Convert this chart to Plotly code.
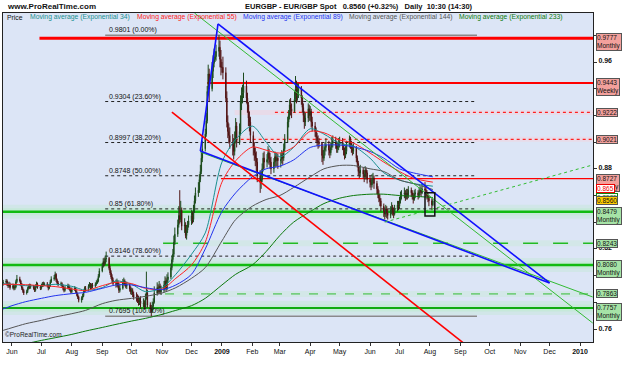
import plotly.graph_objects as go
import pandas as pd

# ---------------- DATA ----------------
# daily candles (high, low, close) in 1/10000 units; open = previous close
first_open = 7940
may08 = [(7968,7925,7950),(7975,7940,7960),(7972,7922,7935),(7950,7908,7925),(7955,7912,7935),(7948,7895,7910)]
jun08 = [(7940,7898,7925),(7938,7890,7905),(7932,7892,7915),(7970,7905,7955),(8005,7945,7975),(7992,7948,7960),
         (7968,7920,7935),(7945,7892,7905),(7918,7872,7890),(7898,7855,7870),(7895,7858,7880),(7918,7870,7905),
         (7935,7895,7920),(7940,7900,7915),(7938,7902,7920),(7930,7895,7910),(7922,7878,7890),(7935,7880,7920),
         (7955,7910,7935),(7948,7902,7915),(7928,7892,7905)]
jul08 = [(7940,7895,7925),(7952,7915,7935),(7955,7918,7930),(7950,7922,7940),(7952,7912,7925),(7935,7890,7905),
         (7938,7898,7925),(7968,7915,7955),(7995,7945,7975),(8005,7962,7985),(8030,7975,8010),(8018,7952,7965),
         (7978,7932,7945),(7960,7920,7935),(7955,7922,7940),(7950,7910,7925),(7935,7890,7905),(7915,7875,7890),
         (7925,7880,7910),(7940,7898,7925),(7935,7895,7910),(7918,7882,7895),(7905,7865,7880)]
aug08 = [(7912,7868,7895),(7922,7885,7905),(7915,7868,7880),(7890,7845,7860),(7872,7825,7840),(7850,7800,7815),
         (7845,7798,7830),(7865,7818,7850),(7895,7840,7880),(7920,7870,7905),(7922,7880,7895),(7935,7885,7920),
         (7952,7910,7935),(7945,7898,7910),(7942,7900,7930),(7945,7905,7920),(7950,7910,7935),(7965,7925,7945),
         (7978,7938,7960),(8012,7950,7995),(8055,7985,8035)]
sep08 = [(8095,8025,8070),(8130,8060,8105),(8135,8070,8090),(8150,8080,8125),(8180,8100,8130),(8140,8040,8055),
         (8075,8005,8020),(8040,7975,7990),(8010,7950,7965),(7985,7925,7940),(7970,7910,7935),(7978,7915,7950),
         (7965,7905,7920),(7945,7870,7890),(7935,7875,7905),(7975,7895,7950),(7985,7930,7960),(7972,7920,7935),
         (7955,7905,7920),(7955,7900,7930),(7945,7880,7900),(7920,7860,7880)]
oct08 = [(7910,7855,7890),(7905,7840,7860),(7880,7820,7840),(7875,7805,7830),(7860,7795,7820),(7850,7775,7800),
         (7835,7780,7810),(7845,7760,7790),(7830,7765,7795),(7815,7745,7760),(7865,7750,7830),(8030,7820,7870),
         (7895,7760,7780),(7800,7725,7760),(7780,7695,7740),(7805,7720,7770),(7830,7745,7800),(7920,7790,7870),
         (7950,7850,7910),(7935,7860,7880),(7960,7870,7920),(7940,7860,7880),(7925,7855,7890)]
nov08 = [(7960,7875,7930),(7995,7915,7960),(7985,7880,7900),(8010,7890,7970),(8025,7950,7990),(8090,7975,8060),
         (8150,8040,8120),(8200,8100,8160),(8300,8140,8250),(8360,8230,8310),(8420,8290,8380),(8520,8360,8450),
         (8640,8390,8420),(8560,8400,8490),(8510,8340,8370),(8430,8320,8380),(8400,8280,8300),(8380,8270,8340),
         (8410,8320,8380),(8450,8360,8410)]
dec08 = [(8490,8380,8450),(8480,8390,8420),(8530,8400,8490),(8600,8470,8560),(8660,8540,8620),(8700,8590,8640),
         (8760,8620,8720),(8830,8700,8780),(8920,8760,8880),(9010,8850,8950),(9100,8930,9060),(9220,9040,9160),
         (9420,9140,9380),(9580,9350,9510),(9550,9300,9400),(9600,9380,9530),(9650,9480,9590),(9700,9560,9620),
         (9680,9600,9640),(9730,9610,9680),(9801,9640,9710),(9760,9560,9620),(9690,9500,9560)]
jan09 = [(9600,9520,9560),(9640,9470,9520),(9560,9300,9330),(9380,9110,9150),(9200,9030,9080),(9140,8990,9050),
         (9110,8950,9000),(9060,8900,8980),(9030,8870,8930),(9080,8900,9020),(9180,8990,9120),(9150,8960,9000),
         (9140,8980,9080),(9350,9050,9300),(9410,9240,9350),(9430,9290,9370),(9520,9330,9420),(9460,9290,9330),
         (9370,9220,9280),(9300,9120,9180),(9230,9080,9150),(9190,9000,9050)]
feb09 = [(9080,8900,8960),(9000,8860,8920),(8960,8820,8880),(8930,8780,8850),(8880,8700,8750),(8790,8620,8700),
         (8780,8650,8720),(8840,8700,8800),(8920,8780,8880),(8930,8800,8850),(8910,8810,8870),(8970,8840,8920),
         (8950,8830,8880),(8920,8800,8850),(8890,8760,8800),(8880,8770,8850),(8930,8820,8890),(8920,8810,8860),
         (8920,8820,8880),(8910,8800,8860)]
mar09 = [(8920,8810,8870),(8940,8840,8900),(8930,8830,8880),(8990,8860,8950),(9060,8930,9020),(9190,9000,9150),
         (9240,9110,9200),(9320,9170,9280),(9330,9200,9250),(9290,9180,9230),(9380,9220,9320),(9495,9300,9400),
         (9460,9290,9350),(9440,9310,9380),(9440,9330,9400),(9420,9280,9330),(9350,9220,9260),(9290,9150,9200),
         (9230,9100,9150),(9220,9120,9180),(9290,9150,9250),(9280,9160,9200)]
apr09 = [(9270,9160,9230),(9250,9110,9150),(9190,9080,9120),(9150,9040,9080),(9110,9000,9040),(9070,8970,9010),
         (9050,8950,9000),(9030,8960,8990),(9000,8850,8900),(8940,8830,8880),(8970,8860,8940),(9000,8900,8960),
         (9030,8930,8980),(9010,8900,8940),(8980,8880,8920),(9000,8900,8960),(9040,8940,8990),(9050,8960,9010),
         (9040,8950,8980),(9010,8920,8950),(9000,8920,8970),(9030,8940,8990)]
may09 = [(9040,8960,9000),(9030,8940,8970),(8990,8900,8940),(8960,8870,8900),(8970,8880,8930),(9010,8910,8980),
         (9050,8960,9010),(9040,8950,8990),(9010,8920,8950),(8980,8900,8930),(8990,8910,8960),(8970,8850,8880),
         (8900,8810,8840),(8860,8750,8780),(8820,8730,8770),(8830,8740,8790),(8810,8730,8760),(8790,8700,8740),
         (8820,8720,8790),(8810,8730,8770),(8790,8690,8720)]
jun09 = [(8750,8660,8700),(8730,8640,8680),(8760,8660,8720),(8770,8690,8730),(8750,8650,8690),(8710,8610,8650),
         (8670,8580,8610),(8640,8550,8580),(8610,8520,8560),(8580,8480,8520),(8540,8440,8480),(8510,8420,8460),
         (8530,8440,8500),(8520,8430,8470),(8500,8420,8450),(8520,8430,8490),(8550,8460,8510),(8530,8450,8480),
         (8510,8430,8460),(8530,8450,8500),(8560,8480,8530),(8560,8490,8520)]
jul09 = [(8590,8500,8560),(8630,8540,8600),(8640,8570,8610),(8660,8580,8620),(8640,8560,8590),(8650,8570,8620),
         (8650,8570,8600),(8670,8580,8640),(8660,8590,8620),(8640,8570,8600),(8620,8540,8570),(8640,8560,8610),
         (8650,8580,8620),(8640,8570,8600),(8660,8580,8630),(8670,8600,8640),(8660,8590,8620),(8690,8610,8650),
         (8700,8610,8640),(8670,8590,8620),(8640,8570,8600),(8620,8550,8580),(8600,8520,8560)]
aug09 = [(8580,8490,8530),(8575,8520,8560)]

month_starts = ["2008-05-23","2008-06-01","2008-07-01","2008-08-01","2008-09-01","2008-10-01","2008-11-01",
                "2008-12-01","2009-01-01","2009-02-01","2009-03-01","2009-04-01","2009-05-01","2009-06-01",
                "2009-07-01","2009-08-01"]
month_rows = [may08, jun08, jul08, aug08, sep08, oct08, nov08, dec08, jan09, feb09, mar09, apr09, may09,
              jun09, jul09, aug09]

# moving averages (semi-monthly samples)
ema_dates = ["2008-05-23","2008-06-01","2008-06-15","2008-07-01","2008-07-15","2008-08-01","2008-08-15",
             "2008-09-01","2008-09-15","2008-10-01","2008-10-15","2008-11-01","2008-11-15","2008-12-01",
             "2008-12-15","2009-01-01","2009-01-15","2009-02-01","2009-02-15","2009-03-01","2009-03-15",
             "2009-04-01","2009-04-15","2009-05-01","2009-05-15","2009-06-01","2009-06-15","2009-07-01",
             "2009-07-15","2009-08-04"]
ema34 = [0.7940,0.7935,0.7925,0.7925,0.7935,0.7920,0.7890,0.7910,0.7960,0.7935,0.7880,0.7910,0.8010,0.8160,
         0.8320,0.8850,0.9020,0.9120,0.9000,0.8890,0.8960,0.9100,0.9060,0.8990,0.8970,0.8880,0.8770,0.8716,
         0.8690,0.8670]
ema55 = [0.7935,0.7935,0.7932,0.7925,0.7918,0.7900,0.7888,0.7925,0.7950,0.7940,0.7905,0.7900,0.7980,0.8080,
         0.8250,0.8700,0.8860,0.8963,0.8940,0.8918,0.8963,0.9080,0.9070,0.9016,0.8993,0.8918,0.8850,0.8780,
         0.8730,0.8700]
ema89 = [0.7750,0.7775,0.7805,0.7830,0.7850,0.7865,0.7875,0.7905,0.7930,0.7930,0.7910,0.7895,0.7930,0.8010,
         0.8200,0.8480,0.8620,0.8740,0.8800,0.8820,0.8866,0.8960,0.8978,0.8978,0.8965,0.8930,0.8880,0.8800,
         0.8770,0.8740]
ema144 = [0.7590,0.7610,0.7640,0.7665,0.7690,0.7715,0.7740,0.7790,0.7815,0.7830,0.7845,0.7870,0.7910,0.7980,
          0.8060,0.8260,0.8420,0.8520,0.8570,0.8600,0.8660,0.8740,0.8800,0.8825,0.8825,0.8800,0.8780,0.8716,
          0.8690,0.8645]
ema233 = [0.7440,0.7470,0.7490,0.7515,0.7535,0.7560,0.7585,0.7612,0.7635,0.7660,0.7680,0.7710,0.7740,0.7775,
          0.7830,0.7930,0.8010,0.8080,0.8180,0.8300,0.8400,0.8480,0.8540,0.8580,0.8600,0.8610,0.8610,0.8600,
          0.8595,0.8585]
ema_names = ["Moving average (Exponential 34)", "Moving average (Exponential 55)",
             "Moving average (Exponential 89)", "Moving average (Exponential 144)",
             "Moving average (Exponential 233)"]

# Fibonacci retracement
fib_values = [0.9801, 0.9304, 0.8997, 0.8748, 0.85, 0.8146, 0.7695]
fib_labels = ["0.9801 (0.00%)", "0.9304 (23.60%)", "0.8997 (38.20%)", "0.8748 (50.00%)",
              "0.85 (61.80%)", "0.8146 (78.60%)", "0.7695 (100.00%)"]
fib_start, fib_end = "2008-09-04", "2009-09-18"

# resistance / support levels: value, start date, label
res_levels = [0.9777, 0.9443, 0.9222, 0.9021, 0.8727]
res_starts = ["2008-06-29", "2008-12-17", "2009-02-24", "2009-01-14", "2008-12-31"]
res_tags = ["Monthly", "Weekly", "", "", "Weekly"]
sup_levels = [0.8479, 0.8243, 0.8080, 0.7863, 0.7757]
sup_starts = ["2008-05-01", "2008-11-02", "2008-05-01", "2008-11-04", "2008-05-01"]
sup_tags = ["Monthly", "", "Monthly", "", "Monthly"]
ema_marks = ["0.865", "0.8585"]
last_price = 0.8560
y_ticks = [0.76, 0.80, 0.82, 0.84, 0.88, 0.96]

# trend lines (date, price) pairs
blue_lines = [(("2008-12-10", 0.8933), ("2008-12-28", 0.9885)),
              (("2008-12-28", 0.9885), ("2009-12-01", 0.7945)),
              (("2008-12-10", 0.8933), ("2009-12-01", 0.7945))]
green_lines = [(("2008-12-04", 0.9967), ("2010-01-14", 0.7645)),
               (("2008-12-10", 0.8925), ("2010-01-14", 0.7840))]
green_dotted = (("2009-06-16", 0.8401), ("2010-01-14", 0.8829))
red_line = (("2008-11-11", 0.9225), ("2009-09-12", 0.7450))
box = (("2009-07-27", 0.8620), ("2009-08-06", 0.8447))

# ---------------- BUILD ----------------
dates, opens, highs, lows, closes = [], [], [], [], []
prev = first_open
for start, rows in zip(month_starts, month_rows):
    ds = pd.bdate_range(start, periods=len(rows))
    for d, (h, l, c) in zip(ds, rows):
        o = prev
        dates.append(d)
        opens.append(o / 1e4)
        closes.append(c / 1e4)
        highs.append(max(h, o, c) / 1e4)
        lows.append(min(l, o, c) / 1e4)
        prev = c

FONT = "Arial, Liberation Sans, sans-serif"
x_left, x_right = "2008-05-22 20:00", "2010-01-14 06:00"
y_lo, y_hi = 0.7503, 0.9967
px = (y_hi - y_lo) / 329.0  # price per pixel

fig = go.Figure()

# glow bands around support lines
for v in [0.8479, 0.8080, 0.7757]:
    fig.add_shape(type="rect", xref="x", yref="y", x0=x_left, x1="2010-02-01", y0=v - 7 * px, y1=v + 7 * px,
                  fillcolor="rgba(185,232,200,0.30)", line_width=0, layer="below")
    fig.add_shape(type="rect", xref="x", yref="y", x0=x_left, x1="2010-02-01", y0=v - 3.5 * px, y1=v + 3.5 * px,
                  fillcolor="rgba(185,238,200,0.45)", line_width=0, layer="below")
for v in [0.7863, 0.8243]:
    fig.add_shape(type="rect", xref="x", yref="y", x0="2008-11-02", x1="2010-02-01", y0=v - 3 * px, y1=v + 3 * px,
                  fillcolor="rgba(195,235,205,0.35)", line_width=0, layer="below")
for v in [0.9222, 0.9021]:
    fig.add_shape(type="rect", xref="x", yref="y", x0="2009-01-14", x1="2010-02-01", y0=v - 2.5 * px, y1=v + 2.5 * px,
                  fillcolor="rgba(250,205,215,0.40)", line_width=0, layer="below")

# fibonacci lines
for i, (v, t) in enumerate(zip(fib_values, fib_labels)):
    solid = i in (0, len(fib_values) - 1)
    fig.add_shape(type="line", xref="x", yref="y", x0=fib_start, x1=fib_end, y0=v, y1=v,
                  line=dict(color="#8a8a8a" if solid else "#222222", width=1.5 if solid else 1,
                            dash="solid" if solid else "dot"), layer="below")
    fig.add_annotation(x="2008-09-06", y=v, xref="x", yref="y", text=t, showarrow=False,
                       xanchor="left", yanchor="middle", yshift=5,
                       font=dict(family=FONT, size=7, color="#111111"))

# resistance lines
res_style = [dict(color="#ff0000", width=3), dict(color="#ff0000", width=2),
             dict(color="#ff2020", width=1.3, dash="dot"), dict(color="#ff2020", width=1.3, dash="dot"),
             dict(color="#ff0000", width=1.3)]
for v, s, st in zip(res_levels, res_starts, res_style):
    fig.add_shape(type="line", xref="x", yref="y", x0=s, x1="2010-02-01", y0=v, y1=v, line=st, layer="below")

# support lines
sup_style = [dict(color="#11bb11", width=2.5), dict(color="#22bb22", width=1.5, dash="longdash"),
             dict(color="#11bb11", width=2.5), dict(color="#33bb33", width=1, dash="dash"),
             dict(color="#11aa11", width=2)]
for v, s, st in zip(sup_levels, sup_starts, sup_style):
    fig.add_shape(type="line", xref="x", yref="y", x0=s, x1="2010-02-01", y0=v, y1=v, line=st, layer="below")

# moving averages
ema_colors = ["#1a9090", "#ff2222", "#2233ee", "#555555", "#0c7a0c"]
for vals, col in zip([ema34, ema55, ema89, ema144, ema233], ema_colors):
    fig.add_trace(go.Scatter(x=ema_dates, y=vals, mode="lines",
                             line=dict(color=col, width=1, shape="spline", smoothing=0.8),
                             hoverinfo="skip", showlegend=False))

# candles
fig.add_trace(go.Candlestick(x=dates, open=opens, high=highs, low=lows, close=closes,
                             increasing=dict(line=dict(color="#1c4a1c", width=1), fillcolor="#129012"),
                             decreasing=dict(line=dict(color="#4f1414", width=1), fillcolor="#c00000"),
                             whiskerwidth=0, showlegend=False))

# trend lines
def seg(p0, p1, color, width, dash="solid"):
    fig.add_shape(type="line", xref="x", yref="y", x0=p0[0], y0=p0[1], x1=p1[0], y1=p1[1],
                  line=dict(color=color, width=width, dash=dash))

for p0, p1 in green_lines:
    seg(p0, p1, "#33bb33", 1)
for p0, p1 in blue_lines:
    seg(p0, p1, "#1010ff", 1.6)
seg(green_dotted[0], green_dotted[1], "#33bb33", 1, "dot")
seg(red_line[0], red_line[1], "#ff0000", 1.6)
fig.add_shape(type="rect", xref="x", yref="y", x0=box[0][0], x1=box[1][0], y0=box[0][1], y1=box[1][1],
              line=dict(color="#111111", width=1.5))

# right side price labels
SAL = "#f3a09c"
GRN = "#a6e3a6"
def side_label(v, text, bg, fg="#111111", border="#555555", two=False):
    fig.add_annotation(xref="paper", yref="y", x=1, y=v, xshift=3, xanchor="left",
                       yanchor="top" if two else "middle", yshift=5 if two else 0,
                       text=text, showarrow=False, align="left", bgcolor=bg, bordercolor=border,
                       borderwidth=1, borderpad=0, font=dict(family=FONT, size=6.5, color=fg))

for v, tag in zip(res_levels, res_tags):
    side_label(v, f"{v:.4f}" + (f"<br>{tag}" if tag else ""), SAL, two=bool(tag))
side_label(0.865, ema_marks[0], "#ffffff", fg="#ee0000", border="#ee0000")
side_label(0.8585, ema_marks[1], "#ffffff", fg="#118811", border="#118811")
side_label(last_price, f"{last_price:.4f}", "#ffcc00", border="#555555")
for v, tag in zip(sup_levels, sup_tags):
    side_label(v, f"{v:.4f}" + (f"<br>{tag}" if tag else ""), GRN, two=bool(tag))

# legend line
leg_x = [5, 28, 135, 241, 347, 457]
leg_text = ["Price"] + ema_names
leg_col = ["#111111"] + ema_colors
for xx, t, c in zip(leg_x, leg_text, leg_col):
    fig.add_annotation(xref="paper", yref="paper", x=(xx - 3) / 590.0, y=1, yshift=-4, xanchor="left",
                       yanchor="middle", text=t, showarrow=False, font=dict(family=FONT, size=6.8, color=c))

# header texts
fig.add_annotation(xref="paper", yref="paper", x=(5 - 3) / 590.0, y=1, yshift=7, xanchor="left",
                   yanchor="middle", text="<b>www.ProRealTime.com</b>", showarrow=False,
                   font=dict(family=FONT, size=8, color="#111111"))
fig.add_annotation(xref="paper", yref="paper", x=(243 - 3) / 590.0, y=1, yshift=7, xanchor="left",
                   yanchor="middle",
                   text="<b>EURGBP - EUR/GBP Spot&nbsp;&nbsp;&nbsp;0.8560 (+0.32%)&nbsp;&nbsp;&nbsp;Daily&nbsp;&nbsp;10:30 (14:30)</b>",
                   showarrow=False, font=dict(family=FONT, size=7.5, color="#111111"))
fig.add_annotation(xref="paper", yref="paper", x=0, y=0, xshift=0, yshift=2, xanchor="left", yanchor="bottom",
                   text="©ProRealTime.com", showarrow=False, font=dict(family=FONT, size=6.5, color="#222222"))

# x ticks
tick_dates = pd.date_range("2008-06-01", "2010-01-01", freq="MS")
tick_text = [("<b>%d</b>" % d.year) if d.month == 1 else d.strftime("%b") for d in tick_dates]

fig.update_layout(
    width=625, height=375, margin=dict(l=3, r=32, t=13, b=33),
    paper_bgcolor="white", plot_bgcolor="#dce5f6",
    showlegend=False, font=dict(family=FONT, size=7, color="#111111"),
    xaxis=dict(type="date", range=[x_left, x_right], rangeslider=dict(visible=False),
               tickvals=list(tick_dates), ticktext=tick_text, ticks="outside", ticklen=3,
               tickcolor="#333333", showgrid=False, zeroline=False, showline=True, linecolor="#222222",
               linewidth=1, mirror=True, tickfont=dict(family=FONT, size=7, color="#111111")),
    yaxis=dict(range=[y_lo, y_hi], side="right", tickvals=y_ticks, ticktext=[f"{v:g}" for v in y_ticks],
               ticks="outside", ticklen=3, ticklabelshift=-1,
               minor=dict(dtick=0.02, tick0=0.76, ticks="outside", ticklen=3, tickcolor="#333333"),
               tickcolor="#333333", showgrid=False, zeroline=False, showline=True, linecolor="#222222",
               linewidth=1, mirror=True, tickfont=dict(family=FONT, size=7, color="#111111", weight="bold")),
)

fig.write_html("out.html")
